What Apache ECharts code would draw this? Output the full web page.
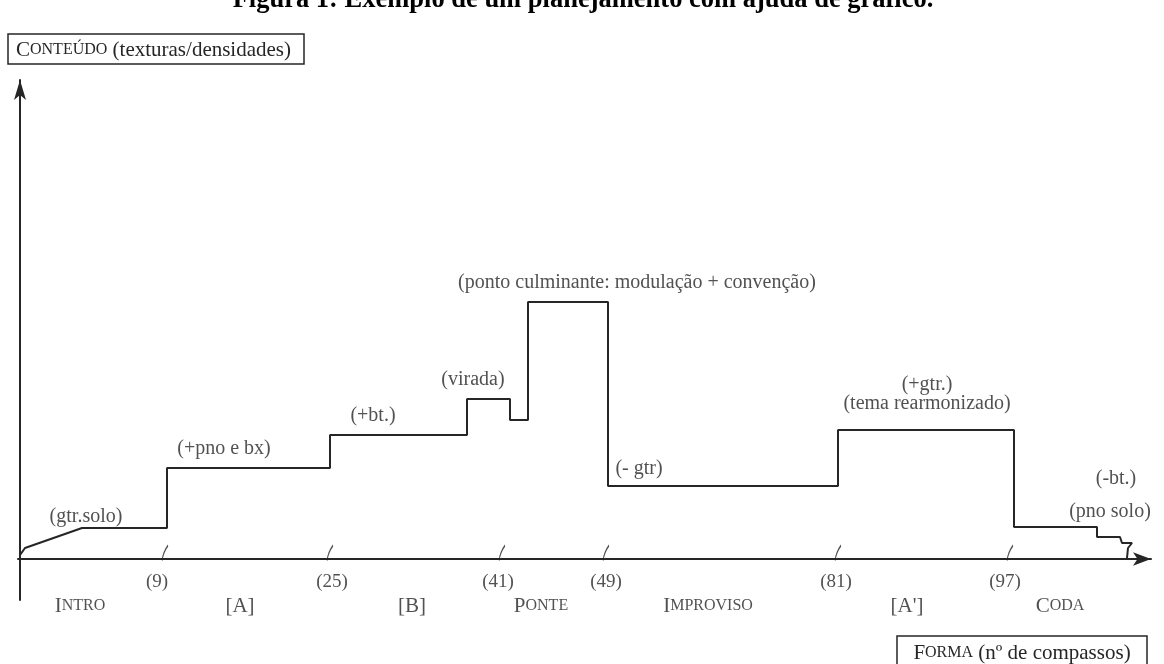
<!DOCTYPE html>
<html>
<head>
<meta charset="utf-8">
<title>Planejamento</title>
<script src="https://cdn.jsdelivr.net/npm/echarts@6/dist/echarts.min.js"></script>
<style>
  html, body { margin: 0; padding: 0; background: #fff; }
  #chart { width: 1164px; height: 664px; }
</style>
</head>
<body>
<div id="chart"></div>
<script>
// escala esquemática: unidades (eixo x não é linear nos compassos)
var stepX = [0, 5, 62, 147, 147, 310, 310, 447, 447, 490, 490, 508, 508, 588, 588, 818, 818, 994, 994, 1077, 1077, 1100, 1102, 1112, 1108, 1107];
var stepY = [4, 11, 31, 31, 91, 91, 124, 124, 160, 160, 139, 139, 257, 257, 73, 73, 129, 129, 32, 32, 22, 22, 16, 16, 11, 1];

// marcas de compasso
var tickPos = [145, 310, 482, 586, 818, 990];
var tickLabels = ['(9)', '(25)', '(41)', '(49)', '(81)', '(97)'];
var tickLabelPos = [137, 312, 478, 586, 816, 985];

// seções da forma
var sections = ['INTRO', '[A]', '[B]', 'PONTE', 'IMPROVISO', "[A']", 'CODA'];
var sectionPos = [60, 220, 392, 521, 688, 887, 1040];

// anotações
var notes = ['(gtr.solo)', '(+pno e bx)', '(+bt.)', '(virada)', '(ponto culminante: modulação + convenção)',
             '(- gtr)', '(+gtr.)', '(tema rearmonizado)', '(-bt.)', '(pno solo)'];
var noteX = [66, 204, 353, 453, 617, 619, 907, 907, 1096, 1090];
var noteY = [42, 110, 143, 179, 276, 90, 174, 155, 80, 47];

var FONT = '"Liberation Serif", "DejaVu Serif", serif';
var INK = '#262626';

function smallCaps(s) {
    if (/^[A-ZÚ]+$/.test(s)) {
        return '{cap|' + s.charAt(0) + '}{sc|' + s.slice(1) + '}';
    }
    return '{n|' + s + '}';
}

var lineData = [];
for (var i = 0; i < stepX.length; i++) {
    lineData.push([stepX[i], stepY[i]]);
}
var tickData = [];
for (var i = 0; i < tickPos.length; i++) {
    tickData.push([tickPos[i], 0]);
}
var tickLabelData = [];
for (var i = 0; i < tickLabels.length; i++) {
    tickLabelData.push({ name: tickLabels[i], value: [tickLabelPos[i], -23] });
}
var sectionData = [];
for (var i = 0; i < sections.length; i++) {
    sectionData.push({ name: sections[i], value: [sectionPos[i], -47] });
}
var noteData = [];
for (var i = 0; i < notes.length; i++) {
    noteData.push({ name: notes[i], value: [noteX[i], noteY[i]] });
}

var textScatter = function (data, label) {
    return {
        type: 'scatter',
        data: data,
        symbolSize: 0,
        clip: false,
        silent: true,
        label: label
    };
};

var capsRich = {
    cap: { fontFamily: FONT, fontSize: 21, fill: INK, color: INK },
    sc: { fontFamily: FONT, fontSize: 16, fill: INK, color: INK },
    n: { fontFamily: FONT, fontSize: 21, fill: INK, color: INK }
};

var myChart = echarts.init(document.getElementById('chart'));
var option = {
    backgroundColor: '#fff',
    animation: false,
    grid: { left: 18, right: 13, top: 80, bottom: 64 },
    xAxis: {
        type: 'value', min: -2, max: 1131,
        splitLine: { show: false }, axisTick: { show: false }, axisLabel: { show: false },
        axisLine: { onZero: true, symbol: ['none', 'arrow'], symbolSize: [10, 18], lineStyle: { color: INK, width: 2 } }
    },
    yAxis: {
        type: 'value', min: -41, max: 479,
        splitLine: { show: false }, axisTick: { show: false }, axisLabel: { show: false },
        axisLine: { onZero: true, symbol: ['none', 'arrow'], symbolSize: [9, 20], lineStyle: { color: INK, width: 2 } }
    },
    graphic: [
        {
            type: 'text', x: 583, y: -13,
            style: { text: 'Figura 1: Exemplo de um planejamento com ajuda de gráfico.', font: 'bold 26.5px ' + FONT, fill: '#000', align: 'center' }
        },
        {
            type: 'rect', shape: { x: 8, y: 34, width: 296, height: 30 },
            style: { fill: 'none', stroke: INK, lineWidth: 1.5 }
        },
        {
            type: 'text', x: 16, y: 50,
            style: { text: '{cap|C}{sc|ONTEÚDO}{n| (texturas/densidades)}', verticalAlign: 'middle', rich: capsRich }
        },
        {
            type: 'rect', shape: { x: 897, y: 636, width: 250, height: 40 },
            style: { fill: 'none', stroke: INK, lineWidth: 1.5 }
        },
        {
            type: 'text', x: 1022, y: 653,
            style: { text: '{cap|F}{sc|ORMA}{n| (nº de compassos)}', align: 'center', verticalAlign: 'middle', rich: capsRich }
        }
    ],
    series: [
        {
            type: 'line',
            data: lineData,
            showSymbol: false,
            silent: true,
            lineStyle: { color: INK, width: 2 }
        },
        {
            type: 'scatter',
            data: tickData,
            silent: true,
            clip: false,
            symbol: 'path://M0,16 C1,10 3,5 7,0',
            symbolSize: [6, 15],
            symbolOffset: [0, -6],
            itemStyle: { color: 'rgba(0,0,0,0)', borderColor: INK, borderWidth: 1.5 }
        },
        textScatter(tickLabelData, {
            show: true, position: 'inside', formatter: '{b}',
            fontFamily: FONT, fontSize: 19, color: INK
        }),
        textScatter(sectionData, {
            show: true, position: 'inside',
            formatter: function (p) { return smallCaps(p.name); },
            rich: capsRich
        }),
        textScatter(noteData, {
            show: true, position: 'inside', formatter: '{b}',
            fontFamily: FONT, fontSize: 20, color: INK
        })
    ]
};
myChart.setOption(option);
</script>
</body>
</html>
